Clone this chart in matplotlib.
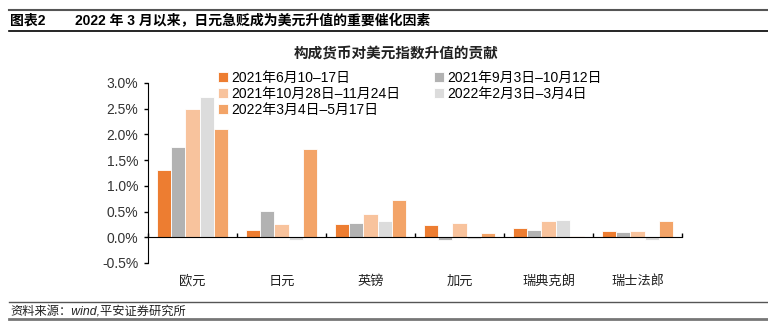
import numpy as np
import matplotlib
matplotlib.use('Agg')
import matplotlib.pyplot as plt
from matplotlib.lines import Line2D

plt.rcParams['font.family'] = ['Liberation Sans', 'Noto Sans CJK SC', 'DejaVu Sans']

categories = ['欧元', '日元', '英镑', '加元', '瑞典克朗', '瑞士法郎']
series_names = ['2021年6月10–17日', '2021年9月3日–10月12日', '2021年10月28日–11月24日',
                '2022年2月3日–3月4日', '2022年3月4日–5月17日']
s1 = [1.31, 0.15, 0.25, 0.23, 0.19, 0.13]
s2 = [1.76, 0.51, 0.28, -0.06, 0.15, 0.10]
s3 = [2.49, 0.25, 0.45, 0.28, 0.32, 0.12]
s4 = [2.73, -0.06, 0.31, -0.04, 0.34, -0.06]
s5 = [2.10, 1.72, 0.72, 0.08, 0.03, 0.32]
yticks = [-0.5, 0.0, 0.5, 1.0, 1.5, 2.0, 2.5, 3.0]

colors = ['#ED7D31', '#B2B2B2', '#F8C39D', '#DCDCDC', '#F3A468']

fig = plt.figure(figsize=(7.68, 3.23), dpi=100)
ax = fig.add_axes([148/768, 1 - 263/323, (682-148)/768, (263-83)/323])

x = np.arange(len(categories))
w = 0.16
bars = []
for k, vals in enumerate([s1, s2, s3, s4, s5]):
    b = ax.bar(x + (k - 2) * w, vals, w, color=colors[k], edgecolor='white',
               linewidth=0.6, label=series_names[k], zorder=2)
    bars.append(b)

ax.set_xlim(-0.5, len(categories) - 0.5)
ax.set_ylim(-0.5, 3.0)
ax.set_yticks(yticks)
ax.set_yticklabels([f'{v:.1f}%' for v in yticks], fontsize=10, color='#333333')
ax.tick_params(axis='y', direction='out', length=3, width=1, color='black', pad=4)

ax.spines['top'].set_visible(False)
ax.spines['right'].set_visible(False)
ax.spines['bottom'].set_position(('data', 0))
ax.spines['bottom'].set_zorder(3)
ax.set_xticks(np.arange(len(categories) + 1) - 0.5)
ax.set_xticklabels([])
ax.tick_params(axis='x', direction='in', length=3, width=1, color='black')
for i, c in enumerate(categories):
    ax.text(i, -0.74, c, ha='center', va='top', fontsize=9.5, color='#222222', clip_on=False)

# legend: row-wise order for 2 columns
order = [0, 2, 4, 1, 3]
handles = [bars[i] for i in order]
labels = [series_names[i] for i in order]
fig.legend(handles, labels, ncol=2, loc='upper left', bbox_to_anchor=(218/768, 1 - 71/323),
           frameon=False, fontsize=10, handlelength=0.75, handleheight=0.75,
           handletextpad=0.2, labelspacing=0.15, columnspacing=2.4, borderpad=0,
           borderaxespad=0)

# title and header
fig.text(396/768, 1 - 54/323, '构成货币对美元指数升值的贡献', ha='center', va='center',
         fontsize=10.5, fontweight='bold', color='#222222')
fig.text(10/768, 1 - 21/323, '图表2', ha='left', va='center', fontsize=10,
         fontweight='bold', color='black')
fig.text(75/768, 1 - 21/323, '2022 年 3 月以来，日元急贬成为美元升值的重要催化因素', ha='left',
         va='center', fontsize=10, fontweight='bold', color='black')
fig.text(10/768, 1 - 311/323, '资料来源：wind,平安证券研究所', ha='left', va='center',
         fontsize=8.8, style='italic', color='#222222')

fig.add_artist(Line2D([9/768, 1], [1 - 10/323] * 2, color='#555555', linewidth=1.5))
fig.add_artist(Line2D([9/768, 1], [1 - 31/323] * 2, color='black', linewidth=1.2))
fig.add_artist(Line2D([9/768, 1], [1 - 302/323] * 2, color='#555555', linewidth=1))
fig.add_artist(Line2D([9/768, 1], [1 - 319/323] * 2, color='#777777', linewidth=2))

fig.savefig('out.png', dpi=100)
